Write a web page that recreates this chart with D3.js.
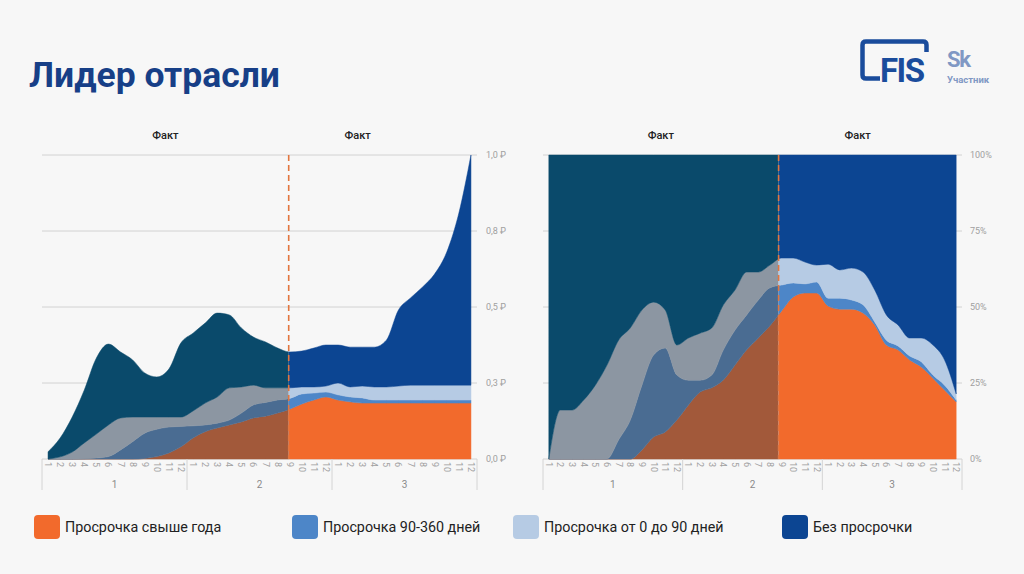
<!DOCTYPE html>
<html><head><meta charset="utf-8">
<script src="https://cdn.jsdelivr.net/npm/d3@7"></script>
<style>
html,body{margin:0;padding:0;background:#f7f7f7;}
svg{display:block;font-family:Roboto,"Noto Sans",sans-serif;}
</style></head>
<body><svg id="c" width="1024" height="574"></svg>
<script>
// ---------- DATA ----------
const titleText = "Лидер отрасли";
const factLabel = "Факт";
const monthLabels = ["1","2","3","4","5","6","7","8","9","10","11","12"];
const yearLabels = ["1","2","3"];
const seriesNames = ["Просрочка свыше года","Просрочка 90-360 дней","Просрочка от 0 до 90 дней","Без просрочки"];
const factSplitIndex = 20; // month 9 of year 2

// Left chart (absolute, ₽)
const leftOver  = [0,0,0,0,0,0,0,0,0.002,0.008,0.02,0.04,0.069,0.09,0.102,0.112,0.122,0.135,0.141,0.151,0.164,0.181,0.194,0.204,0.194,0.188,0.184,0.184,0.184,0.184,0.184,0.184,0.184,0.184,0.184,0.184];
const leftMid   = [0,0,0,0.001,0.003,0.008,0.03,0.057,0.083,0.09,0.085,0.067,0.04,0.022,0.016,0.016,0.029,0.043,0.045,0.043,0.035,0.033,0.023,0.016,0.017,0.016,0.017,0.01,0.01,0.01,0.01,0.01,0.01,0.01,0.01,0.01];
const leftLight = [0,0.007,0.023,0.052,0.079,0.104,0.105,0.081,0.053,0.04,0.033,0.031,0.049,0.072,0.086,0.106,0.086,0.065,0.048,0.04,0.035,0.023,0.02,0.02,0.039,0.033,0.039,0.043,0.043,0.046,0.049,0.049,0.049,0.049,0.049,0.049];
const leftNone  = [0.024,0.062,0.115,0.174,0.25,0.266,0.217,0.188,0.145,0.132,0.158,0.244,0.256,0.263,0.276,0.24,0.194,0.158,0.151,0.131,0.118,0.118,0.128,0.135,0.125,0.131,0.128,0.131,0.154,0.25,0.287,0.323,0.366,0.438,0.566,0.757];
const leftTicks = [0,0.25,0.5,0.75,1];
const leftTickLabels = ["0,0 ₽","0,3 ₽","0,5 ₽","0,8 ₽","1,0 ₽"];

// Right chart (share, %)
const rightOver  = [0,0,0,0,0,0,0,0,3.0,7.2,8.9,12.8,17.8,22.0,23.4,26.0,30.9,35.9,39.8,43.8,48.7,53.3,54.6,54.6,50.3,49.3,49.3,48.0,44.1,37.5,35.9,32.6,30.3,26.6,22.7,18.8];
const rightMid   = [0,0,0,0,0,0,6.3,12.8,21.3,27.0,27.6,14.8,8.1,3.9,4.2,9.9,11.5,11.5,12.5,12.5,8.5,4.6,3.0,3.6,2.6,3.6,3.0,2.7,1.0,1.6,1.3,1.3,1.7,1.0,1.6,0.6];
const rightLight = [0,16.1,16.1,19.4,24.3,30.9,32.8,30.3,24.7,17.4,12.5,9.9,13.9,15.5,15.5,14.8,13.2,14.1,9.2,7.5,8.9,8.2,7.2,5.6,11.2,9.3,10.5,10.8,10.5,8.3,6.9,5.9,7.8,9.9,8.3,2.0];
const rightNone  = [100,83.9,83.9,80.6,75.7,69.1,60.9,56.9,51.0,48.4,51.0,62.5,60.2,58.6,56.9,49.3,44.4,38.5,38.5,36.2,33.9,33.9,35.2,36.2,35.9,37.8,37.2,38.5,44.4,52.6,55.9,60.2,60.2,62.5,67.4,78.6];
const rightTicks = [0,25,50,75,100];
const rightTickLabels = ["0%","25%","50%","75%","100%"];

// ---------- STYLE ----------
const brightColors = ["#f26a2c","#4d86c8","#b6cbe4","#0c4592"];
const mutedColors  = ["#a2593a","#4a6c92","#8c96a2","#0a4a6b"];
const legendColors = ["#f26a2c","#4d86c8","#b6cbe4","#0c4592"];

const svg = d3.select("#c");
svg.append("rect").attr("width",1024).attr("height",574).attr("fill","#f7f7f7");

// Title
svg.append("text").attr("x",29).attr("y",87).text(titleText)
  .attr("font-size",35.5).attr("font-weight",700).attr("fill","#173f87");

// Logo FIS
const logo = svg.append("g");
logo.append("path").attr("d","M880,78.5 L866,78.5 Q862.5,78.5 862.5,75 L862.5,45 Q862.5,41.5 866,41.5 L923,41.5 Q926.5,41.5 926.5,45 L926.5,52")
  .attr("fill","none").attr("stroke","#1a4c9c").attr("stroke-width",4.5);
logo.append("text").attr("x",880).attr("y",82).text("FIS").attr("font-size",33).attr("font-weight",700)
  .attr("fill","#1a4c9c").attr("letter-spacing",-1.5);
logo.append("text").attr("x",947).attr("y",67).text("Sk").attr("font-size",22).attr("font-weight",700).attr("fill","#8098c4").attr("letter-spacing",-1.2);
logo.append("text").attr("x",947).attr("y",83).text("Участник").attr("font-size",9.5).attr("font-weight",700).attr("fill","#8098c4");

const categories = [];
yearLabels.forEach(y => monthLabels.forEach(m => categories.push(y + "-" + m)));

function drawChart(opt){
  const g = svg.append("g");
  const x = d3.scaleBand().domain(categories).range([opt.x0,opt.x1]).padding(0);
  const cx = c => x(c) + x.bandwidth()/2;
  const y = d3.scaleLinear().domain([0,opt.max]).range([459,155]);

  // gridlines
  g.append("g").selectAll("line").data(opt.ticks).join("line")
    .attr("x1",opt.x0).attr("x2",opt.x1).attr("y1",d=>y(d)).attr("y2",d=>y(d))
    .attr("stroke","#d2d2d2").attr("stroke-width",1);

  const rows = categories.map((c,i)=>({cat:c, a:opt.series[0][i], b:opt.series[1][i], c:opt.series[2][i], d:opt.series[3][i]}));
  const stack = d3.stack().keys(["a","b","c","d"])(rows);
  const area = d3.area().x(d=>cx(d.data.cat)).y0(d=>y(d[0])).y1(d=>y(d[1])).curve(d3.curveMonotoneX);

  const splitX = cx(categories[factSplitIndex]) + opt.splitShift;
  const id = opt.id;
  const defs = svg.append("defs");
  defs.append("clipPath").attr("id",id+"L").append("rect").attr("x",opt.x0-10).attr("y",100).attr("width",splitX-opt.x0+10).attr("height",400);
  defs.append("clipPath").attr("id",id+"R").append("rect").attr("x",splitX).attr("y",100).attr("width",opt.x1-splitX+10).attr("height",400);

  g.append("g").attr("clip-path",`url(#${id}L)`).selectAll("path").data(stack).join("path")
    .attr("d",area).attr("fill",(d,i)=>mutedColors[i]).attr("stroke",(d,i)=>mutedColors[i]).attr("stroke-width",0.5);
  g.append("g").attr("clip-path",`url(#${id}R)`).selectAll("path").data(stack).join("path")
    .attr("d",area).attr("fill",(d,i)=>brightColors[i]).attr("stroke",(d,i)=>brightColors[i]).attr("stroke-width",0.5);

  // dashed split line
  g.append("line").attr("x1",splitX).attr("x2",splitX).attr("y1",155).attr("y2",459)
    .attr("stroke","#e2763f").attr("stroke-width",1.6).attr("stroke-dasharray","6,4");

  // fact labels
  g.append("text").attr("x",(opt.x0+splitX)/2).attr("y",139).text(factLabel)
    .attr("text-anchor","middle").attr("font-size",11).attr("font-weight",500).attr("fill","#222");
  g.append("text").attr("x",splitX+opt.factOffset).attr("y",139).text(factLabel)
    .attr("text-anchor","middle").attr("font-size",11).attr("font-weight",500).attr("fill","#222");

  // y tick labels
  g.append("g").selectAll("text").data(opt.ticks).join("text")
    .attr("x",opt.x1+opt.labelGap).attr("y",d=>y(d)+3).text((d,i)=>opt.tickLabels[i])
    .attr("font-size",9).attr("fill","#a0a0a0");

  // x axis: month labels
  g.append("g").selectAll("text").data(categories).join("text")
    .attr("transform",c=>`translate(${cx(c)-3},462) rotate(90)`)
    .text(c=>c.split("-")[1]).attr("font-size",9).attr("fill","#a0a0a0");
  // year separators
  const bounds = [0,12,24].map(i=>x(categories[i])).concat([opt.x1]);
  g.append("g").selectAll("line").data(bounds).join("line")
    .attr("x1",d=>d).attr("x2",d=>d).attr("y1",459).attr("y2",490)
    .attr("stroke","#d4d4d4").attr("stroke-width",1);
  g.append("g").selectAll("text").data(yearLabels).join("text")
    .attr("x",(d,i)=>(bounds[i]+bounds[i+1])/2).attr("y",488).text(d=>d)
    .attr("text-anchor","middle").attr("font-size",10).attr("fill","#8a8a8a");
}

drawChart({id:"lc", x0:42, x1:477, max:1, ticks:leftTicks, tickLabels:leftTickLabels, labelGap:9, factOffset:69, splitShift:-1,
  series:[leftOver,leftMid,leftLight,leftNone]});
drawChart({id:"rc", x0:543, x1:962, max:100, ticks:rightTicks, tickLabels:rightTickLabels, labelGap:8, factOffset:79, splitShift:-3,
  series:[rightOver,rightMid,rightLight,rightNone]});

// Legend
const legX = [34,292,513,782];
const leg = svg.append("g").selectAll("g").data(seriesNames).join("g")
  .attr("transform",(d,i)=>`translate(${legX[i]},515)`);
leg.append("rect").attr("width",26).attr("height",24).attr("rx",4).attr("fill",(d,i)=>legendColors[i]);
leg.append("text").attr("x",31).attr("y",17).text(d=>d).attr("font-size",14.3).attr("fill","#222");
</script></body></html>
